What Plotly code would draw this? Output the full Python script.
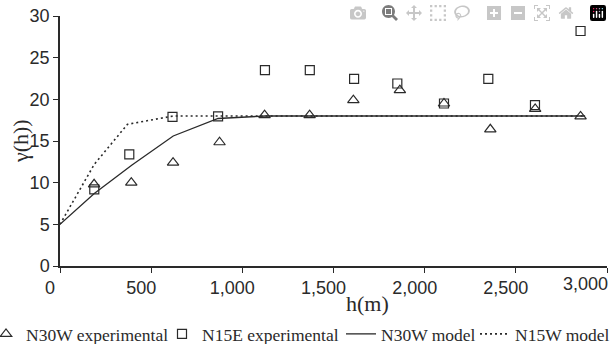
import plotly.graph_objects as go

# experimental variogram, N30W
n30w_h = [187, 391, 620, 875, 1122, 1369, 1609, 1864, 2106, 2360, 2606, 2855]
n30w_g = [9.8, 10.0, 12.4, 14.85, 18.1, 18.1, 19.9, 21.1, 19.5, 16.4, 18.85, 17.95]

# experimental variogram, N15E
n15e_h = [188, 380, 617, 867, 1124, 1370, 1613, 1850, 2106, 2349, 2605, 2855]
n15e_g = [9.2, 13.4, 17.9, 17.95, 23.5, 23.5, 22.45, 21.9, 19.5, 22.45, 19.3, 28.2]

# fitted models
m30_h = [0, 188, 393, 621, 867, 1125, 1375, 1615, 1865, 2110, 2365, 2610, 2880]
m30_g = [5.0, 8.7, 12.1, 15.6, 17.7, 18.0, 18.0, 18.0, 18.0, 18.0, 18.0, 18.0, 18.0]
m15_h = [0, 188, 370, 621, 867, 1125, 1375, 1615, 1865, 2110, 2365, 2610, 2880]
m15_g = [5.0, 12.2, 17.0, 18.0, 18.0, 18.0, 18.0, 18.0, 18.0, 18.0, 18.0, 18.0, 18.0]

x_ticks = [0, 500, 1000, 1500, 2000, 2500, 3000]
x_tick_labels = ["0", "500", "1,000", "1,500", "2,000", "2,500", "3,000"]
y_ticks = [0, 5, 10, 15, 20, 25, 30]

INK = "#2a2a2a"
SERIF = "Liberation Serif, Times New Roman, serif"
SANS = "Liberation Sans, Arial, sans-serif"
W, H = 612, 344
ML, MR, MT, MB = 60, 5, 16, 78
PW = W - ML - MR

fig = go.Figure()
fig.add_trace(go.Scatter(
    x=n30w_h, y=n30w_g, mode="markers", name="N30W experimental", legend="legend",
    marker=dict(symbol="triangle-up-open", size=10, color=INK, line=dict(width=1.2, color=INK)),
))
fig.add_trace(go.Scatter(
    x=n15e_h, y=n15e_g, mode="markers", name="N15E experimental", legend="legend2",
    marker=dict(symbol="square-open", size=9, color=INK, line=dict(width=1.2, color=INK)),
))
fig.add_trace(go.Scatter(
    x=m30_h, y=m30_g, mode="lines", name="N30W model", legend="legend3",
    line=dict(color=INK, width=1.3),
))
fig.add_trace(go.Scatter(
    x=m15_h, y=m15_g, mode="lines", name="N15W model", legend="legend4",
    line=dict(color=INK, width=1.6, dash="2px,3px"),
))


def leg(left_px):
    return dict(
        orientation="h", xref="paper", yref="container",
        x=(left_px - ML) / PW, xanchor="left", y=1 - 334 / H, yanchor="middle",
        font=dict(family=SERIF, size=17.5, color=INK),
        itemwidth=30, bgcolor="rgba(0,0,0,0)", borderwidth=0,
    )


axis_common = dict(
    showgrid=False, zeroline=False, linecolor=INK, linewidth=1.5,
    tickcolor=INK, tickwidth=1.2, tickfont=dict(family=SANS, size=18, color=INK),
)

fig.update_layout(
    width=W, height=H,
    margin=dict(l=ML, r=MR, t=MT, b=MB, autoexpand=False),
    paper_bgcolor="white", plot_bgcolor="white",
    showlegend=True,
    legend=leg(-14), legend2=leg(162), legend3=leg(341), legend4=leg(475),
    xaxis=dict(
        range=[0, 3000], tickvals=x_ticks,
        ticktext=x_tick_labels[:-1] + [""],
        tickangle=0, showline=True, ticks="outside", ticklen=5,
        ticklabelshift=-10, ticklabeloverflow="allow", **axis_common,
    ),
    yaxis=dict(
        range=[0, 30], tickvals=y_ticks, showline=True, ticks="outside", ticklen=5,
        **axis_common,
    ),
    annotations=[
        # last x tick label, right-aligned to its tick so it stays inside the page
        dict(text=x_tick_labels[-1], xref="x", yref="paper", x=x_ticks[-1], y=0,
             xanchor="right", yanchor="top", xshift=3, yshift=-6, showarrow=False,
             font=dict(family=SANS, size=18, color=INK)),
        dict(text="h(m)", xref="paper", yref="paper", x=(367 - ML) / PW, y=-0.148,
             xanchor="center", yanchor="middle", showarrow=False,
             font=dict(family=SERIF, size=22, color=INK)),
        dict(text="γ(h))", xref="paper", yref="paper", x=(20 - ML) / PW, y=0.5,
             xanchor="center", yanchor="middle", showarrow=False, textangle=-90,
             font=dict(family=SERIF, size=22, color=INK)),
    ],
)

# remove the browser's default page margin so the 612x344 figure fills the window
fig.write_html(
    "out.html",
    post_script="document.body.style.margin='0';document.body.style.padding='0';",
)
